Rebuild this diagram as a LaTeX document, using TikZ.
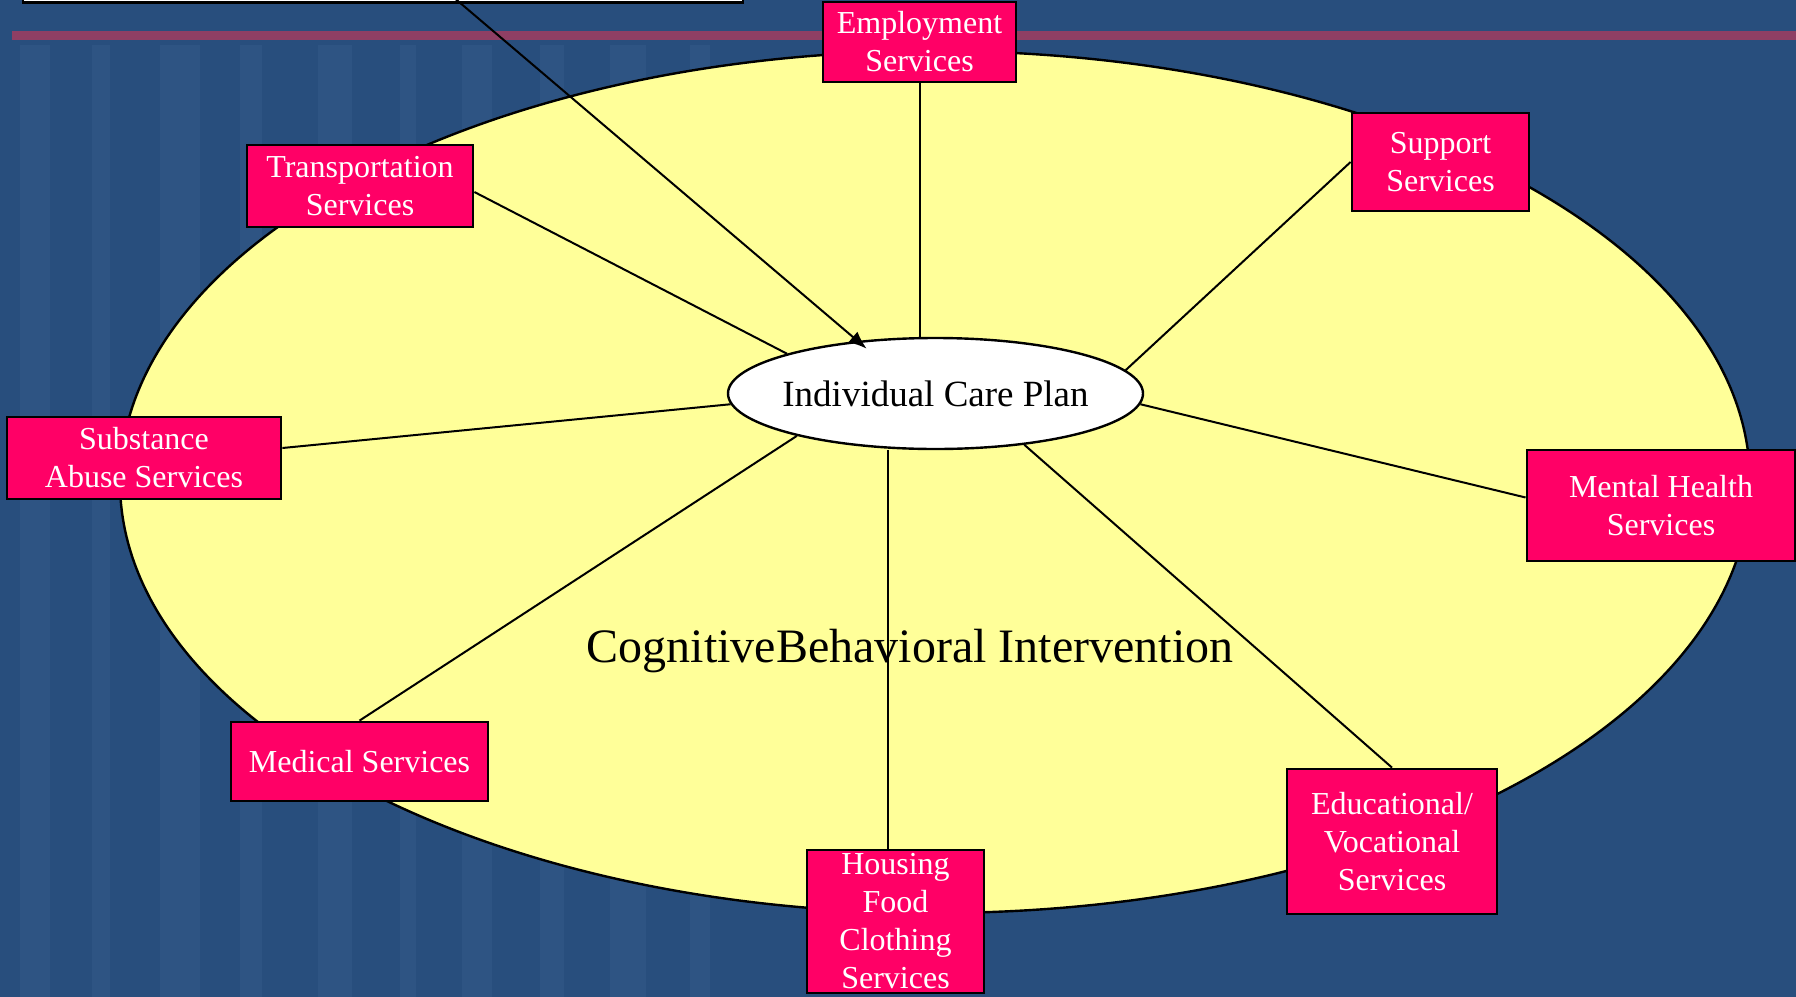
\documentclass[tikz,border=0pt]{standalone}
\usepackage{fontspec}
\setmainfont{Liberation Serif}
\usetikzlibrary{arrows.meta,shapes.geometric}

\definecolor{slidebg}{RGB}{40,78,125}
\definecolor{shelf}{RGB}{62,100,145}
\definecolor{redrule}{RGB}{178,58,92}
\definecolor{planfill}{RGB}{255,255,153}
\definecolor{svcfill}{RGB}{255,0,102}

\tikzset{
  svc/.style={draw=black, line width=1.4pt, fill=svcfill, text=white, align=center,
    inner sep=0pt, font=\fontsize{16}{19}\selectfont},
  link/.style={line width=1pt}
}

\begin{document}
\begin{tikzpicture}[x=0.5pt,y=-0.5pt]
  \useasboundingbox (0,0) rectangle (1796,997);
  % backdrop
  \fill[slidebg] (0,0) rectangle (1796,997);
  \foreach \x/\w in {20/30,92/18,160/40,240/22,318/34,400/16,462/30,540/24,610/36,690/20}
    \fill[shelf,opacity=0.3] (\x,45) rectangle ++(\w,952);
  \fill[redrule,opacity=0.75] (12,31) rectangle (1796,40);

  % outer intervention
  \draw[line width=1.2pt,fill=planfill] (935,482) ellipse [x radius=407.5pt, y radius=215.5pt];
  \node[font=\fontsize{24}{28}\selectfont] (cbi) at (910,651) {CognitiveBehavioral Intervention};

  % care plan and services
  \node[draw=black,fill=white,line width=1.2pt,inner sep=0pt,minimum width=360pt,minimum height=42.5pt] (top) at (383,-40) {};
  \coordinate (tail) at (452,-4);
  \node[ellipse,draw=black,line width=1.2pt,fill=white,inner xsep=-4pt,inner ysep=0pt,minimum width=207.5pt,minimum height=55.5pt,
    font=\fontsize{18.5}{22}\selectfont] (icp) at (935.5,393.5) {Individual Care Plan};
  \node[svc,minimum width=96.5pt,minimum height=40pt] (emp) at (919.5,42) {Employment\\Services};
  \node[svc,minimum width=88.5pt,minimum height=49pt] (sup) at (1440.5,162) {Support\\Services};
  \node[svc,minimum width=113pt,minimum height=41pt] (trn) at (360,186) {Transportation\\Services};
  \node[svc,minimum width=137pt,minimum height=41pt] (sub) at (144,458) {Substance\\Abuse Services};
  \node[svc,minimum width=134pt,minimum height=55.5pt] (mh) at (1661,505.5) {Mental Health\\Services};
  \node[svc,minimum width=128.5pt,minimum height=39.5pt] (med) at (359.5,761.5) {Medical Services};
  \node[svc,minimum width=88.5pt,minimum height=71.5pt] (hou) at (895.5,921.5) {Housing\\Food\\Clothing\\Services};
  \node[svc,minimum width=105pt,minimum height=72.5pt] (edu) at (1392,841.5) {Educational/\\Vocational\\Services};

  % spokes
  \draw[link] (emp.south) -- (emp.south |- icp.north);
  \draw[link] (sup.west) -- (icp.7);
  \draw[link] ([yshift=-3pt]trn.east) -- (icp.165);
  \draw[link] ([yshift=5pt]sub.east) -- (icp.183);
  \draw[link] ([yshift=4pt]mh.west) -- (icp.-3);
  \draw[link] (med.north) -- (icp.197);
  \draw[link] ([xshift=-3.75pt]hou.north) -- ([xshift=-3.75pt]hou.north |- icp.south);
  \draw[link] (edu.north) -- (icp.-30);
  \draw[link,-{Latex[length=9pt,width=7pt]},shorten >=-6pt] (tail) -- (icp.146);
\end{tikzpicture}
\end{document}
